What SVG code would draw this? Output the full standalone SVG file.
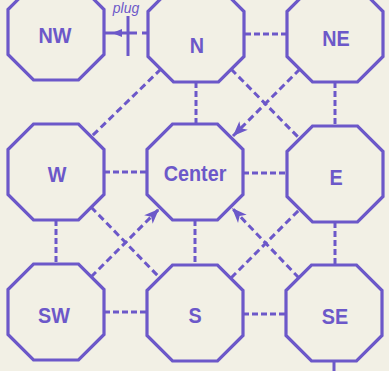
<svg xmlns="http://www.w3.org/2000/svg" width="389" height="371" viewBox="0 0 389 371">
<style>
.oct{fill:none;stroke:#6c58c9;stroke-width:3.2;stroke-linejoin:miter}
.lbl{font-family:"Liberation Sans",Arial,sans-serif;font-weight:bold;font-size:22px;fill:#6c58c9;text-anchor:middle}
.d{stroke:#6c58c9;stroke-width:3;stroke-dasharray:6 3;fill:none}
.dd{stroke:#6c58c9;stroke-width:3;stroke-dasharray:7 4;fill:none}
.s{stroke:#6c58c9;stroke-width:3;fill:none}
</style>
<defs>
<polygon id="oct" points="-22.5,-48 22.5,-48 48,-22.5 48,22.5 22.5,48 -22.5,48 -48,22.5 -48,-22.5"/>
<marker id="ah" markerUnits="userSpaceOnUse" markerWidth="20" markerHeight="14" refX="0" refY="0" viewBox="-16 -7 18 14" orient="auto">
<path d="M0,0 L-15,-6 L-11,0 L-15,6 Z" fill="#6c58c9"/>
</marker>
</defs>
<rect width="389" height="371" fill="#f2f0e5"/>
<g id="connectors">
<path class="d" d="M245,34 H287"/>
<path class="d" d="M104,172 H147"/>
<path class="d" d="M243,173 H287"/>
<path class="d" d="M104,312 H147"/>
<path class="d" d="M243,314 H286"/>
<path class="d" d="M196,82 V124"/>
<path class="d" d="M335,82 V126"/>
<path class="d" d="M56,220 V264"/>
<path class="d" d="M195,220 V265"/>
<path class="d" d="M335,222 V265"/>
<path class="dd" d="M161,69 L91,137"/>
<path class="dd" d="M231,69 L300,139"/>
<path class="dd" d="M300,69 L233,136" marker-end="url(#ah)"/>
<path class="dd" d="M91,207 L160,278"/>
<path class="dd" d="M91,277 L159,209" marker-end="url(#ah)"/>
<path class="dd" d="M231,278 L300,209"/>
<path class="dd" d="M299,278 L232,208" marker-end="url(#ah)"/>
<path class="s" d="M105,33 H137"/>
<path class="s" d="M142,33 H148"/>
<path class="s" d="M128,16 V56"/>
<path d="M112,33 L122,29 L122,37 Z" fill="#6c58c9"/>
<path class="s" d="M334,362 V371"/>
</g>
<text x="126" y="13" font-family="Liberation Sans,Arial,sans-serif" font-style="italic" font-size="14" fill="#6c58c9" text-anchor="middle">plug</text>
<g id="NW"><use href="#oct" class="oct" x="56" y="32"/><text class="lbl" transform="translate(55,43) scale(0.9,1)">NW</text></g>
<g id="N"><use href="#oct" class="oct" x="196" y="34"/><text class="lbl" transform="translate(197,53) scale(0.9,1)">N</text></g>
<g id="NE"><use href="#oct" class="oct" x="335" y="34"/><text class="lbl" transform="translate(336,46) scale(0.9,1)">NE</text></g>
<g id="W"><use href="#oct" class="oct" x="56" y="172"/><text class="lbl" transform="translate(57,182) scale(0.9,1)">W</text></g>
<g id="Center"><use href="#oct" class="oct" x="195" y="172"/><text class="lbl" transform="translate(195,181) scale(0.9,1)">Center</text></g>
<g id="E"><use href="#oct" class="oct" x="335" y="174"/><text class="lbl" transform="translate(336,185) scale(0.9,1)">E</text></g>
<g id="SW"><use href="#oct" class="oct" x="56" y="312"/><text class="lbl" transform="translate(54,323) scale(0.9,1)">SW</text></g>
<g id="S"><use href="#oct" class="oct" x="195" y="313"/><text class="lbl" transform="translate(195,323) scale(0.9,1)">S</text></g>
<g id="SE"><use href="#oct" class="oct" x="334" y="313"/><text class="lbl" transform="translate(335,324) scale(0.9,1)">SE</text></g>
</svg>
